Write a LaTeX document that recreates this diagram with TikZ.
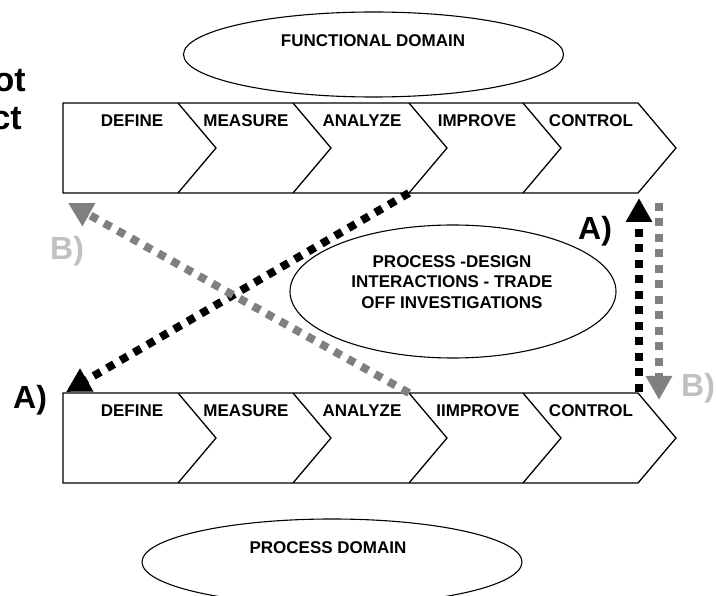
\documentclass[tikz,border=0pt]{standalone}
\usepackage{fontspec}
\setmainfont{Liberation Sans}
\usetikzlibrary{shapes.geometric,arrows.meta}
\definecolor{arrgray}{RGB}{128,128,128}
\definecolor{lblgray}{RGB}{192,192,192}
\begin{document}
\begin{tikzpicture}[x=1pt,y=-1pt,
  rowline/.style={line width=1.3pt, line join=miter},
  stagelbl/.style={font=\fontsize{17}{20.5}\selectfont\bfseries, inner sep=0pt, anchor=base},
  dom/.style={ellipse, draw, line width=1.1pt, inner sep=0pt},
  bigtxt/.style={font=\fontsize{32}{36}\selectfont\bfseries, inner sep=0pt, anchor=base west},
  cuttxt/.style={font=\fontsize{34}{39}\selectfont\bfseries, inner sep=0pt, anchor=base east},
  dotblack/.style={line width=8pt, dash pattern=on 8pt off 7.5pt, -{Triangle[length=24pt,width=25pt]}},
  dotgray/.style={dotblack, draw=arrgray},
]
\useasboundingbox (0,0) rectangle (716,596);

% partially visible title text at left edge
\node[cuttxt] (ot) at (26,92) {ot};
\node[cuttxt] (ct) at (22,130) {ct};

% domain ellipses
\node[dom, minimum width=380pt, minimum height=85pt] (fd) at (373.5,54.5) {};
\node[stagelbl] (fdl) at (373,47) {FUNCTIONAL DOMAIN};
\node[dom, minimum width=326pt, minimum height=133pt] (pd) at (453,291.5) {};
\node[stagelbl] (m1) at (452,267.5) {PROCESS -DESIGN};
\node[stagelbl] (m2) at (452,288) {INTERACTIONS - TRADE};
\node[stagelbl] (m3) at (452,308.5) {OFF INVESTIGATIONS};
\node[dom, minimum width=380pt, minimum height=86pt] (prd) at (332,562) {};
\node[stagelbl] (prdl) at (328,553) {PROCESS DOMAIN};

% chevron rows
\foreach \r/\y in {t/103,b/393}{
  \draw[rowline] (63,\y) coordinate (\r L) -- (638,\y) coordinate (\r 5top) -- (676,\y+45) -- (638,\y+90) coordinate (\r 5bot) -- (63,\y+90) -- cycle;
  \foreach \x [count=\i] in {178,293,409,523}{
    \draw[rowline] (\x,\y) coordinate (\r\i top) -- (\x+38,\y+45) -- (\x,\y+90) coordinate (\r\i bot);
  }
}

% stage labels
\node[stagelbl] (td) at (132,127) {DEFINE};
\node[stagelbl] (tm) at (246,127) {MEASURE};
\node[stagelbl] (ta) at (362,127) {ANALYZE};
\node[stagelbl] (ti) at (477,127) {IMPROVE};
\node[stagelbl] (tc) at (591,127) {CONTROL};
\node[stagelbl] (bd) at (132,417) {DEFINE};
\node[stagelbl] (bm) at (246,417) {MEASURE};
\node[stagelbl] (ba) at (362,417) {ANALYZE};
\node[stagelbl] (bi) at (478,417) {IIMPROVE};
\node[stagelbl] (bc) at (591,417) {CONTROL};

% arrow end points
\coordinate (aTipL) at (66,392);
\coordinate (bTipL) at (68,203);
\coordinate (aUpStart) at (639,392);
\coordinate (aUpTip) at (639,198);
\coordinate (bDnStart) at (659,203);
\coordinate (bDnTip) at (659,400);

% dotted arrows
\draw[dotblack] (t3bot) -- (aTipL);
\draw[dotgray] (b3top) -- (bTipL);
\draw[dotblack] (aUpStart) -- (aUpTip);
\draw[dotgray] (bDnStart) -- (bDnTip);

% arrow labels
\node[bigtxt] (lA1) at (13,409) {A)};
\node[bigtxt] (lA2) at (578,240) {A)};
\node[bigtxt, text=lblgray] (lB1) at (50,260) {B)};
\node[bigtxt, text=lblgray] (lB2) at (681,397) {B)};
\end{tikzpicture}
\end{document}
